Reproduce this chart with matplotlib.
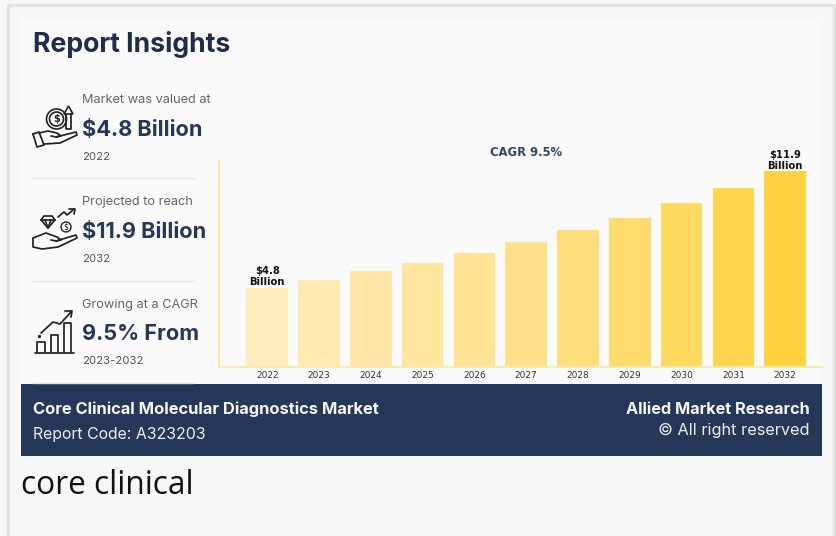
import matplotlib
matplotlib.use("Agg")
import matplotlib.pyplot as plt
from matplotlib.patches import Rectangle, Circle, Polygon
from matplotlib.colors import LinearSegmentedColormap

years = ["2022", "2023", "2024", "2025", "2026", "2027", "2028", "2029", "2030", "2031", "2032"]
market_size = [4.8, 5.25, 5.8, 6.3, 6.9, 7.58, 8.3, 9.09, 9.99, 10.9, 11.9]
bar_labels = {0: "$4.8\nBillion", 10: "$11.9\nBillion"}
insight_captions = ["Market was valued at", "Projected to reach", "Growing at a CAGR"]
insight_values = ["$4.8 Billion", "$11.9 Billion", "9.5% From"]
insight_periods = ["2022", "2032", "2023-2032"]

NAVY = "#263859"
INK = "#1F2D4D"
W, H = 836, 536
HEAD = "Inter"
ramp = LinearSegmentedColormap.from_list("gold", ["#FFEDBB", "#FFE08A", "#FFD23F"])

fig = plt.figure(figsize=(W / 100, H / 100), dpi=100, facecolor="#F7F7F7")

# Page furniture in pixel coordinates
page = fig.add_axes([0, 0, 1, 1])
page.set_xlim(0, W)
page.set_ylim(H, 0)
page.axis("off")
page.add_patch(Rectangle((8, 5), 826, 540, fc="#F7F7F7", ec="#E2E2E2", lw=2.4))
page.add_patch(Rectangle((21, 18), 801, 366, fc="#FAFAFA", ec="none"))
page.add_patch(Rectangle((21, 384), 801, 72, fc=NAVY, ec="none"))

page.text(33, 45, "Report Insights", fontsize=19.2, fontweight="bold", family=HEAD,
          color=INK, va="center")

row_y = [0, 102.5, 205]
for dy, cap, val, per in zip(row_y, insight_captions, insight_values, insight_periods):
    page.text(82.5, 100 + dy, cap, fontsize=9.2, family=HEAD, color="#666666", va="center")
    page.text(82.5, 129.5 + dy, val, fontsize=15.6, fontweight="bold", family=HEAD,
              color=NAVY, va="center")
    page.text(82.5, 156.5 + dy, per, fontsize=8.2, family=HEAD, color="#555555", va="center")
for y in (178, 280.5, 383):
    page.plot([33, 194], [y, y], color="#E4E4E4", lw=1)

page.text(33, 409, "Core Clinical Molecular Diagnostics Market", fontsize=11.9,
          fontweight="bold", family=HEAD, color="#F5F5F5", va="center")
page.text(33, 434, "Report Code: A323203", fontsize=11.4, family=HEAD, color="#EDEDED", va="center")
page.text(810, 410, "Allied Market Research", fontsize=11.7, fontweight="bold", family=HEAD,
          color="#F5F5F5", va="center", ha="right")
page.text(810, 430, "© All right reserved", fontsize=11.7, family=HEAD, color="#EDEDED",
          va="center", ha="right")
page.text(21, 486, "core clinical", fontsize=22.8, family="Open Sans", color="#111111", va="center")

ICON = dict(color="#222222", lw=1.25, solid_capstyle="round", solid_joinstyle="round")

# Coin and arrow above an open hand
page.plot([33, 39, 44, 37, 33], [134, 132, 145, 147, 134], **ICON)
page.plot([39, 48, 57, 61, 56, 51], [133, 131, 133, 136, 137, 136], **ICON)
page.plot([56, 76, 77, 60, 44], [137, 132, 135, 143, 144], **ICON)
for r in (10, 7):
    page.add_patch(Circle((56.5, 119), r, fc="none", ec="#222222", lw=1.2))
page.text(56.5, 119, "$", fontsize=7, fontweight="bold", ha="center", va="center", color="#222222")
page.add_patch(Polygon([[64, 114], [68.5, 106], [73, 114]], fc="none", ec="#222222", lw=1.2))
page.plot([66, 66, 71, 71], [114, 129, 129, 114], **ICON)

# Gem, coin and rising arrow above an open hand
page.plot([33, 46, 57, 61, 56, 51], [238, 233, 237, 240, 241, 240], **ICON)
page.plot([56, 76, 77, 58, 42, 33, 33], [241, 235, 238, 247, 249, 247, 238], **ICON)
page.add_patch(Polygon([[41, 220], [44, 216], [52, 216], [55, 220], [48, 228]], fc="none", ec="#222222", lw=1.2))
page.plot([41, 55], [220, 220], **ICON)
page.plot([45, 48, 51], [220, 228, 220], **ICON)
page.add_patch(Circle((66, 227), 5, fc="none", ec="#222222", lw=1))
page.text(66, 227, "$", fontsize=5.5, ha="center", va="center", color="#222222")
page.plot([58, 64, 67, 73], [217, 212, 215, 210], **ICON)
page.plot([69, 75, 74], [209, 209, 214], **ICON)

# Rising arrow over a small bar chart
page.plot([35, 74], [352.5, 352.5], **ICON)
for x0, x1, top in ((37, 45, 342), (50.5, 58, 335), (64, 71, 323)):
    page.plot([x0, x0, x1, x1], [352, top, top, 352], **ICON)
page.plot([41, 53, 60, 71], [333, 322, 324, 312], **ICON)
page.plot([65, 72, 71], [311, 311, 317], **ICON)
page.plot([39], [336], marker="o", ms=1.4, color="#222222")

# Market size bars
ax = fig.add_axes([218.5 / W, 1 - 366.5 / H, (822 - 218.5) / W, (366.5 - 161) / H], facecolor="none")
positions = list(range(len(years)))
colors = [ramp(i / (len(years) - 1)) for i in positions]
bars = ax.bar(positions, market_size, width=0.8, color=colors)
ax.set_xlim(-0.94, 10.71)
ax.set_ylim(0, 12.54)
ax.set_xticks(positions, years)
ax.set_yticks([])
ax.tick_params(axis="x", length=0, labelsize=6.5, pad=3.5, labelcolor="#333333")
for side in ("top", "right"):
    ax.spines[side].set_visible(False)
ax.spines["left"].set_color("#FFE08A")
ax.spines["bottom"].set_color("#FFE9A8")
ax.spines["left"].set_linewidth(1.1)
ax.spines["bottom"].set_linewidth(1.4)
for idx, label in bar_labels.items():
    ax.annotate(label, (positions[idx], market_size[idx]), xytext=(0, 0.5), textcoords="offset points",
                ha="center", va="bottom", fontsize=7.2, fontweight="bold", color="#111111",
                linespacing=1.15)
page.text(526, 153, "CAGR 9.5%", fontsize=8.4, fontweight="bold", color="#33466B",
          ha="center", va="center")

fig.savefig("out.png", dpi=100, facecolor=fig.get_facecolor())
